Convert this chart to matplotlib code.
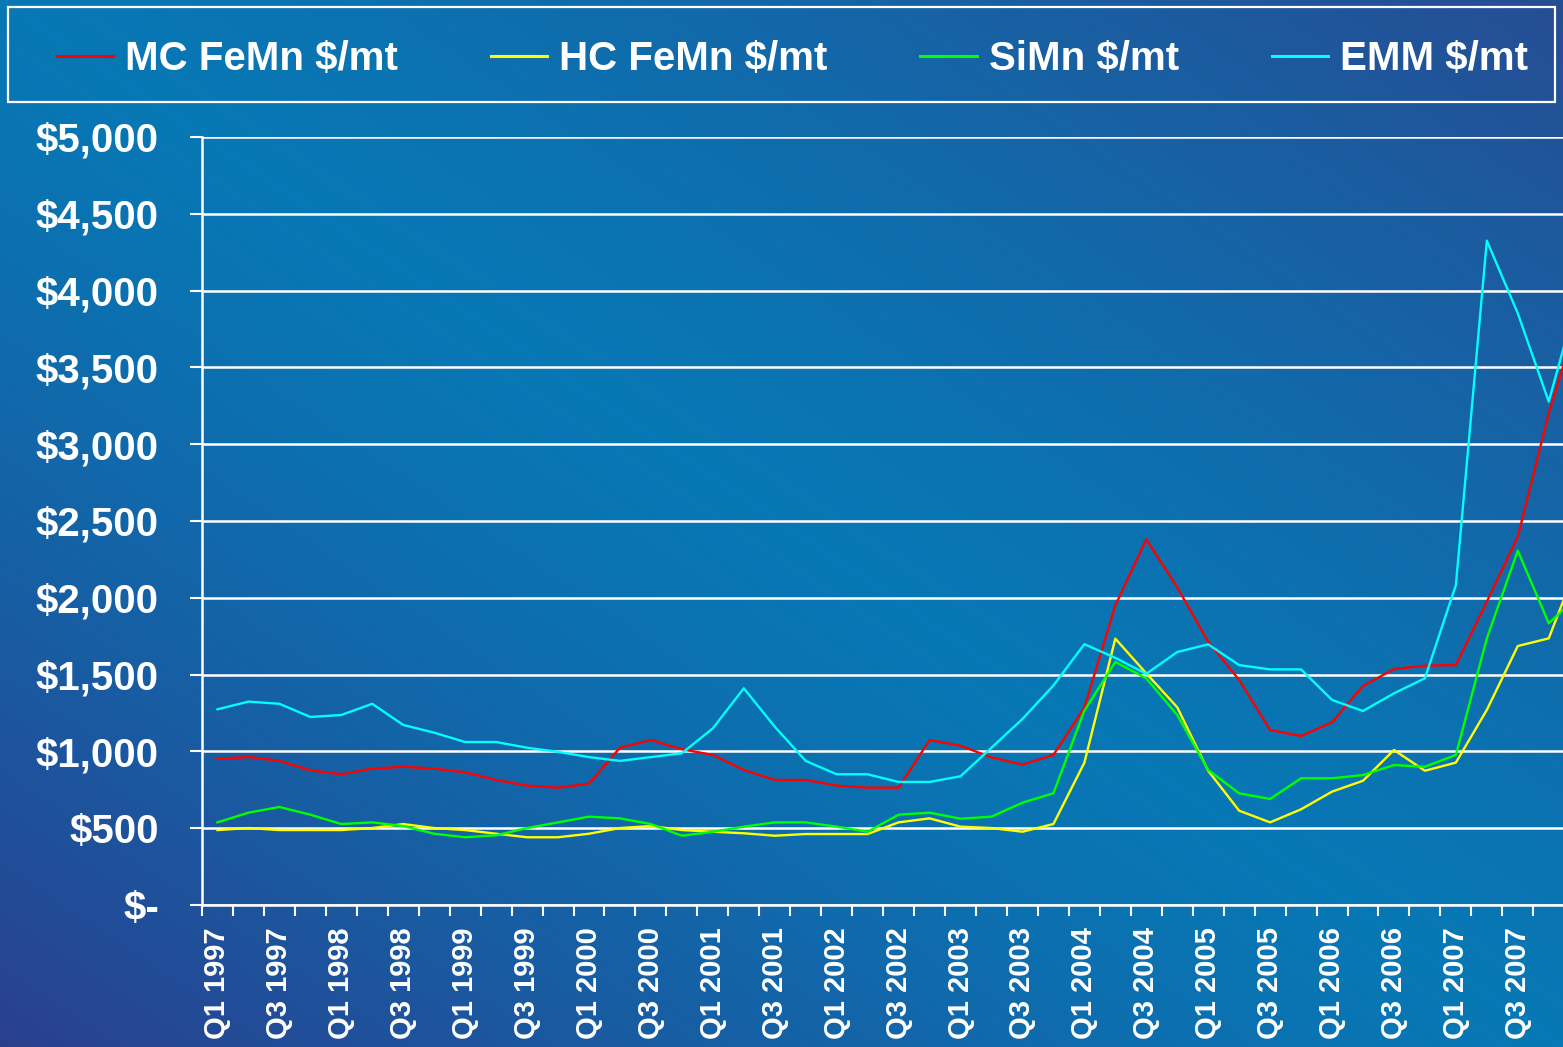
import numpy as np
import matplotlib
matplotlib.use("Agg")
import matplotlib.pyplot as plt
from matplotlib.patches import Rectangle

# ------------------------------------------------------------
# Data: quarterly prices, Q1 1997 .. Q1 2008 ($/mt)
# ------------------------------------------------------------
quarters = [f"Q{q} {y}" for y in range(1997, 2009) for q in (1, 2, 3, 4)][:45]

mc_femn = [951, 964, 938, 877, 851, 888, 900, 888, 864, 814, 777, 764,
           790, 1024, 1074, 1014, 977, 879, 814, 814, 777, 764, 764, 1074,
           1037, 961, 914, 977, 1285, 1950, 2381, 2068, 1714, 1465, 1139, 1100,
           1189, 1426, 1536, 1558, 1562, 1975, 2398, 3201, 3860]

hc_femn = [488, 501, 488, 488, 488, 501, 527, 501, 488, 464, 441, 441,
           464, 501, 514, 488, 477, 467, 451, 462, 462, 462, 538, 564,
           510, 501, 477, 527, 926, 1734, 1508, 1287, 874, 614, 538, 623,
           738, 809, 1009, 874, 927, 1270, 1686, 1736, 2257]

simn = [538, 601, 638, 588, 527, 538, 514, 464, 441, 454, 501, 538,
        575, 564, 527, 451, 477, 510, 538, 538, 510, 477, 588, 601,
        562, 575, 666, 727, 1265, 1582, 1476, 1237, 879, 727, 690, 825,
        825, 846, 911, 900, 977, 1736, 2307, 1834, 2021]

emm = [1274, 1324, 1310, 1224, 1237, 1310, 1172, 1122, 1061, 1061, 1024, 997,
       963, 938, 963, 988, 1150, 1411, 1161, 938, 851, 851, 801, 801,
       838, 1024, 1211, 1429, 1698, 1609, 1505, 1647, 1697, 1562, 1534, 1534,
       1335, 1263, 1378, 1476, 2083, 4325, 3852, 3277, 4010]

series_names = ["MC FeMn $/mt", "HC FeMn $/mt", "SiMn $/mt", "EMM $/mt"]
series_colors = ["#ff0000", "#ffff00", "#00ff00", "#00ffff"]

y_ticks = [0, 500, 1000, 1500, 2000, 2500, 3000, 3500, 4000, 4500, 5000]
y_labels = ["$-", "$500", "$1,000", "$1,500", "$2,000", "$2,500",
            "$3,000", "$3,500", "$4,000", "$4,500", "$5,000"]

plt.rcParams["font.family"] = ["Liberation Sans", "DejaVu Sans"]
plt.rcParams["font.weight"] = "bold"

W, H = 1563, 1047
fig = plt.figure(figsize=(W / 100, H / 100), dpi=100)

# ------------------------------------------------------------
# Background gradient (dark corners bottom-left / top-right)
# ------------------------------------------------------------
bg = fig.add_axes([0, 0, 1, 1], zorder=-10)
u, v = np.meshgrid(np.linspace(0, 1, 400), np.linspace(0, 1, 300))
t = np.clip(np.abs(u + (1 - v) - 1), 0, 1) ** 1.3
bright = np.array([0.03, 0.47, 0.71])
dark_bl = np.array([0.165, 0.25, 0.56])
dark_tr = np.array([0.15, 0.30, 0.58])
dark = np.where((u + (1 - v) < 1)[..., None], dark_bl, dark_tr)
img = bright * (1 - t[..., None]) + dark * t[..., None]
bg.imshow(img, aspect="auto", extent=[0, 1, 0, 1], origin="upper")
bg.axis("off")

# ------------------------------------------------------------
# Main chart
# ------------------------------------------------------------
ax = fig.add_axes([202 / W, 1 - 905 / H, 1 - 202 / W, 768 / H])
ax.patch.set_alpha(0)

x = np.arange(len(quarters))
lines = []
for vals, name, col in zip([mc_femn, hc_femn, simn, emm], series_names, series_colors):
    ln, = ax.plot(x, vals, color=col, lw=1.7, label=name)
    lines.append(ln)

ax.set_yticks(y_ticks)
ax.set_yticklabels(y_labels)
ax.yaxis.grid(True, color="white", lw=1.8)
ax.set_axisbelow(True)
ax.tick_params(axis="y", colors="white", length=9, width=1.5, pad=22,
               labelsize=29, direction="out")

# category boundary ticks (major) and labels every other quarter (minor)
ax.set_xticks(np.arange(len(quarters) + 1) - 0.5)
ax.set_xticklabels([])
ax.set_xticks(x[::2], minor=True)
ax.set_xticklabels(quarters[::2], minor=True, rotation=90)
ax.tick_params(axis="x", which="major", colors="white", length=8, width=1.5,
               direction="out")
ax.tick_params(axis="x", which="minor", colors="white", length=0, pad=16,
               labelsize=21)

# the chart is cut at the right edge, just past Q4 2007
ax.set_ylim(0, 5000)
ax.set_xlim(-0.5, (W - 202) / 30.96 - 0.5)

for side in ("top", "right"):
    ax.spines[side].set_visible(False)
for side in ("left", "bottom"):
    ax.spines[side].set_color("white")
    ax.spines[side].set_linewidth(1.8)

for lbl in ax.get_yticklabels() + ax.get_xticklabels(minor=True):
    lbl.set_fontweight("bold")
    lbl.set_color("white")

# ------------------------------------------------------------
# Legend across the top in a white frame
# ------------------------------------------------------------
fig.add_artist(Rectangle((8 / W, 1 - 102 / H), (1555 - 8) / W, 95 / H,
                         transform=fig.transFigure, fill=False,
                         ec="white", lw=1.6))
leg = fig.legend(handles=lines, loc="center left", ncol=4, frameon=False,
                 bbox_to_anchor=(57 / W, 1 - 59 / H), borderpad=0,
                 borderaxespad=0, handlelength=1.4, handletextpad=0.3,
                 columnspacing=2.3, prop={"size": 29, "weight": "bold"})
for txt in leg.get_texts():
    txt.set_color("white")
for h in leg.legend_handles:
    h.set_linewidth(2.2)

fig.savefig("out.png", dpi=100)
